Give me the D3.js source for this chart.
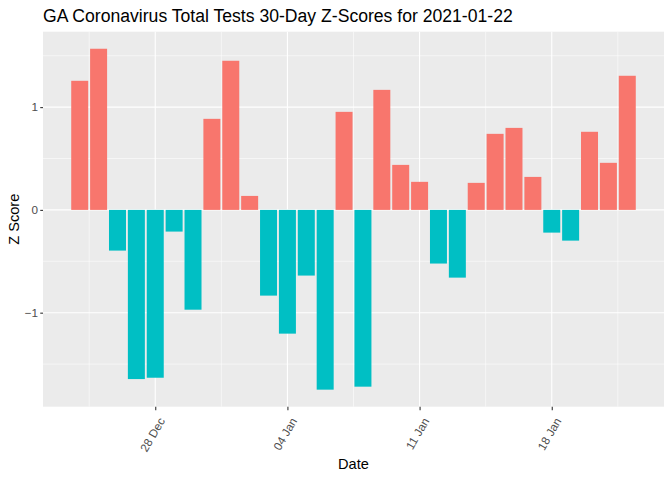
<!DOCTYPE html>
<html>
<head>
<meta charset="utf-8">
<script src="https://cdn.jsdelivr.net/npm/d3@7"></script>
<style>
  body { margin: 0; background: #fff; }
  text { font-family: "Liberation Sans", Arial, sans-serif; }
</style>
</head>
<body>
<div class="chart"></div>
<script>
// Data
const dates = [
    "2020-12-24", "2020-12-25", "2020-12-26", "2020-12-27", "2020-12-28",
    "2020-12-29", "2020-12-30", "2020-12-31", "2021-01-01", "2021-01-02",
    "2021-01-03", "2021-01-04", "2021-01-05", "2021-01-06", "2021-01-07",
    "2021-01-08", "2021-01-09", "2021-01-10", "2021-01-11", "2021-01-12",
    "2021-01-13", "2021-01-14", "2021-01-15", "2021-01-16", "2021-01-17",
    "2021-01-18", "2021-01-19", "2021-01-20", "2021-01-21", "2021-01-22"
]
const zScores = [
    1.256, 1.568, -0.396, -1.646, -1.633,
    -0.211, -0.971, 0.886, 1.451, 0.136,
    -0.834, -1.204, -0.639, -1.749, 0.954,
    -1.720, 1.168, 0.438, 0.273, -0.522,
    -0.659, 0.263, 0.740, 0.798, 0.321,
    -0.221, -0.299, 0.760, 0.458, 1.305
]
const yBreaks = [-1, 0, 1]
const yMinor = [-1.5, -0.5, 0.5, 1.5]
const xBreaks = ["2020-12-28", "2021-01-04", "2021-01-11", "2021-01-18"]
const xMinor = ["2020-12-24T12:00", "2020-12-31T12:00", "2021-01-07T12:00", "2021-01-14T12:00", "2021-01-21T12:00"]

// ggplot default hue colours
const posCol = "#F8766D"
const negCol = "#00BFC4"

const width = 672
const height = 480
const margin = { top: 31.7, right: 8, bottom: 73.3, left: 43 }
const DAY = 864e5

const parse = d3.utcParse("%Y-%m-%d")
const parseT = d3.utcParse("%Y-%m-%dT%H:%M")
const data = dates.map((d, i) => ({ date: parse(d), z: zScores[i] }))

const svg = d3.select('.chart')
    .append('svg')
    .attr('width', width)
    .attr('height', height)

// x domain: bars are 0.9 day wide, then 5% expansion like ggplot
const x0 = d3.min(data, d => +d.date) - 0.45 * DAY
const x1 = d3.max(data, d => +d.date) + 0.45 * DAY
const xPad = (x1 - x0) * 0.05
const x = d3.scaleUtc()
    .domain([new Date(x0 - xPad), new Date(x1 + xPad)])
    .range([margin.left, width - margin.right])

const yMin = Math.min(0, d3.min(zScores))
const yMax = Math.max(0, d3.max(zScores))
const yPad = (yMax - yMin) * 0.05
const y = d3.scaleLinear()
    .domain([yMin - yPad, yMax + yPad])
    .range([height - margin.bottom, margin.top])

// panel
svg.append('rect')
    .attr('x', margin.left)
    .attr('y', margin.top)
    .attr('width', width - margin.right - margin.left)
    .attr('height', height - margin.bottom - margin.top)
    .attr('fill', '#EBEBEB')

const grid = svg.append('g')

grid.selectAll('.ymin')
    .data(yMinor)
    .enter()
    .append('line')
    .attr('x1', margin.left)
    .attr('x2', width - margin.right)
    .attr('y1', d => y(d))
    .attr('y2', d => y(d))
    .attr('stroke', '#fff')
    .attr('stroke-width', 0.55)

grid.selectAll('.xmin')
    .data(xMinor)
    .enter()
    .append('line')
    .attr('x1', d => x(parseT(d)))
    .attr('x2', d => x(parseT(d)))
    .attr('y1', margin.top)
    .attr('y2', height - margin.bottom)
    .attr('stroke', '#fff')
    .attr('stroke-width', 0.55)

grid.selectAll('.ymaj')
    .data(yBreaks)
    .enter()
    .append('line')
    .attr('x1', margin.left)
    .attr('x2', width - margin.right)
    .attr('y1', d => y(d))
    .attr('y2', d => y(d))
    .attr('stroke', '#fff')
    .attr('stroke-width', 1.1)

grid.selectAll('.xmaj')
    .data(xBreaks)
    .enter()
    .append('line')
    .attr('x1', d => x(parse(d)))
    .attr('x2', d => x(parse(d)))
    .attr('y1', margin.top)
    .attr('y2', height - margin.bottom)
    .attr('stroke', '#fff')
    .attr('stroke-width', 1.1)

// bars
const barW = x(new Date(0.9 * DAY)) - x(new Date(0))

svg.append('g')
    .selectAll('rect')
    .data(data)
    .enter()
    .append('rect')
    .attr('x', d => x(d.date) - barW / 2)
    .attr('width', barW)
    .attr('y', d => y(Math.max(0, d.z)))
    .attr('height', d => Math.abs(y(d.z) - y(0)))
    .attr('fill', d => d.z > 0 ? posCol : negCol)

// y axis
const yAxis = svg.append('g')
    .attr('transform', 'translate(' + margin.left + ',0)')
    .call(d3.axisLeft(y).tickValues(yBreaks).tickSize(2.75).tickPadding(2.2).tickFormat(d3.format('d')))
yAxis.select('.domain').remove()
yAxis.selectAll('line').attr('stroke', '#333333').attr('stroke-width', 1.1)
yAxis.selectAll('text')
    .attr('fill', '#4D4D4D')
    .style('font-size', '11.7px')
    .style('font-family', '"Liberation Sans", Arial, sans-serif')

// x axis
const xAxis = svg.append('g')
    .attr('transform', 'translate(0,' + (height - margin.bottom) + ')')
    .call(d3.axisBottom(x).tickValues(xBreaks.map(parse)).tickSize(3.5).tickFormat(d3.utcFormat('%d %b')))
xAxis.select('.domain').remove()
xAxis.selectAll('line').attr('stroke', '#333333').attr('stroke-width', 1.1)
xAxis.selectAll('text')
    .attr('fill', '#4D4D4D')
    .style('font-size', '11.7px')
    .style('font-family', '"Liberation Sans", Arial, sans-serif')
    .attr('text-anchor', 'end')
    .attr('dy', '0.35em')
    .attr('y', 0)
    .attr('transform', 'translate(6,12) rotate(-60)')

// titles
svg.append('text')
    .attr('x', margin.left)
    .attr('y', 21.7)
    .style('font-size', '17.6px')
    .attr('fill', '#000')
    .text('GA Coronavirus Total Tests 30-Day Z-Scores for 2021-01-22')

svg.append('text')
    .attr('x', (margin.left + width - margin.right) / 2)
    .attr('y', 469.3)
    .attr('text-anchor', 'middle')
    .style('font-size', '14.6px')
    .attr('fill', '#000')
    .text('Date')

svg.append('text')
    .attr('transform', 'translate(19,' + ((margin.top + height - margin.bottom) / 2) + ') rotate(-90)')
    .attr('text-anchor', 'middle')
    .style('font-size', '14.6px')
    .attr('fill', '#000')
    .text('Z Score')
</script>
</body>
</html>
